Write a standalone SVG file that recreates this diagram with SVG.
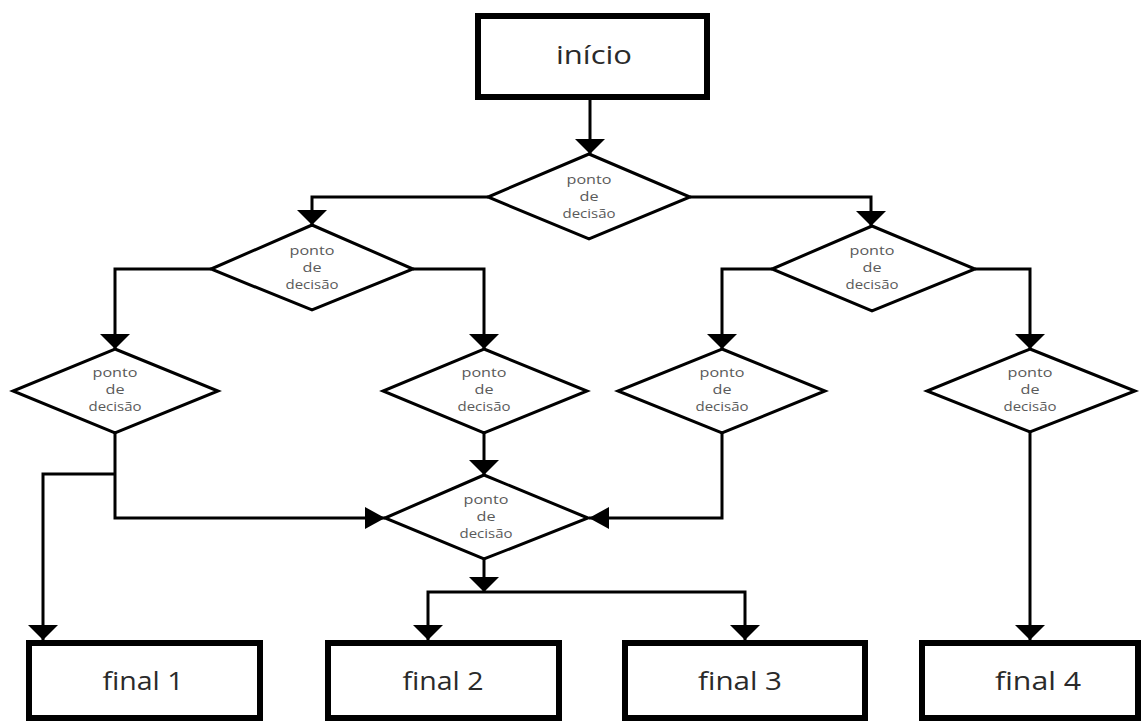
<svg xmlns="http://www.w3.org/2000/svg" width="1143" height="722" viewBox="0 0 1143 722">
  <style>
    .box { fill: #fff; stroke: #000; stroke-width: 6; }
    .dia { fill: #fff; stroke: #000; stroke-width: 3; stroke-linejoin: miter; }
    .conn { fill: none; stroke: #000; stroke-width: 3; }
    .bt { font-family: "Open Sans", "Liberation Sans", sans-serif; font-size: 25px; fill: #2a2a2a; text-anchor: middle; }
    .dt { font-family: "Open Sans", "Liberation Sans", sans-serif; font-size: 13.5px; fill: #5a5a5a; text-anchor: middle; }
  </style>
  <defs>
    <marker id="ad" viewBox="0 0 15 30" markerWidth="15" markerHeight="30" refX="15" refY="15" orient="auto" markerUnits="userSpaceOnUse">
      <path d="M0,0 L15,15 L0,30 Z" fill="#000"/>
    </marker>
    <marker id="as" viewBox="0 0 20 22" markerWidth="20" markerHeight="22" refX="20" refY="11" orient="auto" markerUnits="userSpaceOnUse">
      <path d="M0,0 L20,11 L0,22 Z" fill="#000"/>
    </marker>
  </defs>
  <rect width="1143" height="722" fill="#fff"/>

  <g id="connectors">
    <path class="conn" d="M590,100 V154" marker-end="url(#ad)"/>
    <path class="conn" d="M488,197 H312 V225" marker-end="url(#ad)"/>
    <path class="conn" d="M690,197 H871 V226" marker-end="url(#ad)"/>
    <path class="conn" d="M211,269 H115 V349" marker-end="url(#ad)"/>
    <path class="conn" d="M413,269 H484 V349" marker-end="url(#ad)"/>
    <path class="conn" d="M772,269 H722 V349" marker-end="url(#ad)"/>
    <path class="conn" d="M975,269 H1030 V349" marker-end="url(#ad)"/>
    <path class="conn" d="M115,433 V518 H385" marker-end="url(#as)"/>
    <path class="conn" d="M115,474 H43 V640" marker-end="url(#ad)"/>
    <path class="conn" d="M484,433 V475" marker-end="url(#ad)"/>
    <path class="conn" d="M722,433 V518 H589" marker-end="url(#as)"/>
    <path class="conn" d="M484,559 V592" marker-end="url(#ad)"/>
    <path class="conn" d="M484,592 H428 V640" marker-end="url(#ad)"/>
    <path class="conn" d="M484,592 H745 V640" marker-end="url(#ad)"/>
    <path class="conn" d="M1030,432 V640" marker-end="url(#ad)"/>
  </g>

  <g id="inicio">
    <rect class="box" x="478" y="16" width="229" height="81"/>
    <text class="bt" x="594" y="64" textLength="76" lengthAdjust="spacingAndGlyphs">início</text>
  </g>

  <g id="decisao1">
    <polygon class="dia" points="589,154 690,197 589,239 488,197"/>
    <text class="dt" x="589" y="184" textLength="45" lengthAdjust="spacingAndGlyphs">ponto</text>
    <text class="dt" x="589" y="201" textLength="19" lengthAdjust="spacingAndGlyphs">de</text>
    <text class="dt" x="589" y="218" textLength="53" lengthAdjust="spacingAndGlyphs">decisão</text>
  </g>
  <g id="decisao2">
    <polygon class="dia" points="312,225 413,269 312,310 211,269"/>
    <text class="dt" x="312" y="255" textLength="45" lengthAdjust="spacingAndGlyphs">ponto</text>
    <text class="dt" x="312" y="272" textLength="19" lengthAdjust="spacingAndGlyphs">de</text>
    <text class="dt" x="312" y="289" textLength="53" lengthAdjust="spacingAndGlyphs">decisão</text>
  </g>
  <g id="decisao3">
    <polygon class="dia" points="872,226 975,269 872,311 772,269"/>
    <text class="dt" x="872" y="255" textLength="45" lengthAdjust="spacingAndGlyphs">ponto</text>
    <text class="dt" x="872" y="272" textLength="19" lengthAdjust="spacingAndGlyphs">de</text>
    <text class="dt" x="872" y="289" textLength="53" lengthAdjust="spacingAndGlyphs">decisão</text>
  </g>
  <g id="decisao4">
    <polygon class="dia" points="115,349 218,391 115,433 13,391"/>
    <text class="dt" x="115" y="377" textLength="45" lengthAdjust="spacingAndGlyphs">ponto</text>
    <text class="dt" x="115" y="394" textLength="19" lengthAdjust="spacingAndGlyphs">de</text>
    <text class="dt" x="115" y="411" textLength="53" lengthAdjust="spacingAndGlyphs">decisão</text>
  </g>
  <g id="decisao5">
    <polygon class="dia" points="484,349 587,391 484,433 383,391"/>
    <text class="dt" x="484" y="377" textLength="45" lengthAdjust="spacingAndGlyphs">ponto</text>
    <text class="dt" x="484" y="394" textLength="19" lengthAdjust="spacingAndGlyphs">de</text>
    <text class="dt" x="484" y="411" textLength="53" lengthAdjust="spacingAndGlyphs">decisão</text>
  </g>
  <g id="decisao6">
    <polygon class="dia" points="722,349 825,391 722,433 618,391"/>
    <text class="dt" x="722" y="377" textLength="45" lengthAdjust="spacingAndGlyphs">ponto</text>
    <text class="dt" x="722" y="394" textLength="19" lengthAdjust="spacingAndGlyphs">de</text>
    <text class="dt" x="722" y="411" textLength="53" lengthAdjust="spacingAndGlyphs">decisão</text>
  </g>
  <g id="decisao7">
    <polygon class="dia" points="484,475 588,518 484,559 385,518"/>
    <text class="dt" x="486" y="504" textLength="45" lengthAdjust="spacingAndGlyphs">ponto</text>
    <text class="dt" x="486" y="521" textLength="19" lengthAdjust="spacingAndGlyphs">de</text>
    <text class="dt" x="486" y="538" textLength="53" lengthAdjust="spacingAndGlyphs">decisão</text>
  </g>
  <g id="decisao8">
    <polygon class="dia" points="1030,349 1135,391 1030,432 927,391"/>
    <text class="dt" x="1030" y="377" textLength="45" lengthAdjust="spacingAndGlyphs">ponto</text>
    <text class="dt" x="1030" y="394" textLength="19" lengthAdjust="spacingAndGlyphs">de</text>
    <text class="dt" x="1030" y="411" textLength="53" lengthAdjust="spacingAndGlyphs">decisão</text>
  </g>

  <g id="final1">
    <rect class="box" x="29" y="643" width="231" height="75"/>
    <text class="bt" x="143" y="690" textLength="81" lengthAdjust="spacingAndGlyphs">final 1</text>
  </g>
  <g id="final2">
    <rect class="box" x="328" y="643" width="231" height="75"/>
    <text class="bt" x="443" y="690" textLength="81" lengthAdjust="spacingAndGlyphs">final 2</text>
  </g>
  <g id="final3">
    <rect class="box" x="625" y="643" width="240" height="75"/>
    <text class="bt" x="740" y="690" textLength="84" lengthAdjust="spacingAndGlyphs">final 3</text>
  </g>
  <g id="final4">
    <rect class="box" x="922" y="643" width="216" height="75"/>
    <text class="bt" x="1038" y="690" textLength="86" lengthAdjust="spacingAndGlyphs">final 4</text>
  </g>
</svg>
